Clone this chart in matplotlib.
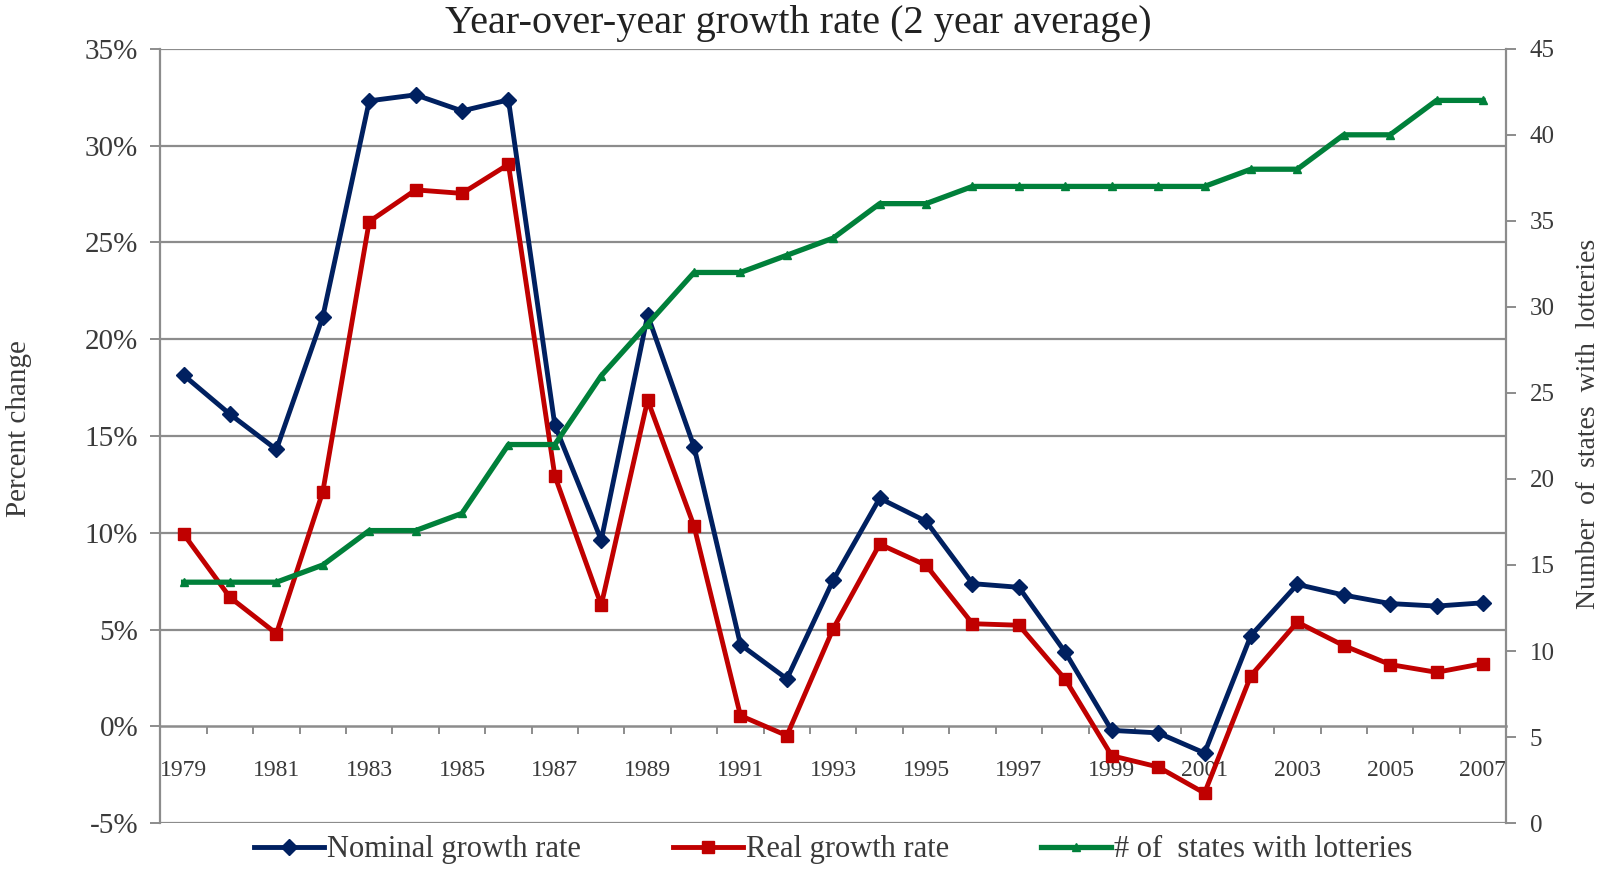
import matplotlib
matplotlib.use('Agg')
import matplotlib.pyplot as plt
import numpy as np

# Data
years = list(range(1979, 2008))
nominal = [18.14, 16.12, 14.30, 21.16, 32.31, 32.62, 31.79, 32.36, 15.55, 9.62,
           21.24, 14.44, 4.22, 2.45, 7.56, 11.78, 10.59, 7.37, 7.18, 3.82,
           -0.21, -0.34, -1.38, 4.69, 7.33, 6.78, 6.34, 6.21, 6.38]
real = [9.93, 6.66, 4.79, 12.12, 26.07, 27.71, 27.53, 29.03, 12.93, 6.26,
        16.85, 10.34, 0.55, -0.48, 5.05, 9.41, 8.32, 5.30, 5.22, 2.42,
        -1.52, -2.10, -3.45, 2.62, 5.38, 4.17, 3.19, 2.79, 3.24]
states = [14, 14, 14, 15, 17, 17, 18, 22, 22, 26, 29, 32, 32, 33, 34, 36, 36,
          37, 37, 37, 37, 37, 37, 38, 38, 40, 40, 42, 42]

pct_ticks = [-5, 0, 5, 10, 15, 20, 25, 30, 35]
pct_labels = ['-5%', '0%', '5%', '10%', '15%', '20%', '25%', '30%', '35%']
state_ticks = [0, 5, 10, 15, 20, 25, 30, 35, 40, 45]

NAVY = '#002060'
RED = '#C00000'
GREEN = '#00803A'
GRID = '#8C8C8C'
TEXT = '#3A3A3A'

plt.rcParams['font.family'] = ['Liberation Serif', 'DejaVu Serif']
plt.rcParams['text.color'] = TEXT
plt.rcParams['axes.labelcolor'] = TEXT
plt.rcParams['xtick.color'] = GRID
plt.rcParams['ytick.color'] = GRID
plt.rcParams['xtick.labelcolor'] = TEXT
plt.rcParams['ytick.labelcolor'] = TEXT

fig = plt.figure(figsize=(16.04, 8.71), dpi=100)
ax = fig.add_axes([0.100, 0.055, 0.839, 0.889])
ax2 = ax.twinx()

x = np.arange(len(years))

# Primary axis: growth rates
ax.plot(x, nominal, color=NAVY, lw=3.5, marker='D', ms=8.5, mec=NAVY, mfc=NAVY,
        label='Nominal growth rate', zorder=3)
ax.plot(x, real, color=RED, lw=3.5, marker='s', ms=8.5, mec=RED, mfc=RED,
        label='Real growth rate', zorder=3)

# Secondary axis: number of states
ax2.plot(x, states, color=GREEN, lw=3.8, marker='^', ms=6, mec=GREEN, mfc=GREEN,
         label='# of  states with lotteries', zorder=3)

ax.set_xlim(-0.5, len(years) - 0.5)
ax.set_ylim(-5, 35)
ax2.set_ylim(0, 45)

ax.set_yticks(pct_ticks)
ax.set_yticklabels(pct_labels)
ax2.set_yticks(state_ticks)

# horizontal gridlines
for v in pct_ticks:
    if v != 0:
        ax.axhline(v, color=GRID, lw=1.6, zorder=1)

# x axis sits on the 0% line
for s in ['top', 'right']:
    ax.spines[s].set_visible(False)
ax.spines['bottom'].set_position(('data', 0))
ax.spines['bottom'].set_color(GRID)
ax.spines['bottom'].set_linewidth(1.8)
ax.spines['left'].set_color(GRID)
ax.spines['left'].set_linewidth(1.6)
for s in ['top', 'left', 'bottom']:
    ax2.spines[s].set_visible(False)
ax2.spines['right'].set_color(GRID)
ax2.spines['right'].set_linewidth(1.6)

ax.set_xticks(x[::2])
ax.set_xticklabels([str(y) for y in years[::2]], fontsize=17)
ax.set_xticks(np.arange(-0.5, len(years), 1.0), minor=True)
ax.tick_params(axis='x', which='major', length=0, pad=24)
ax.tick_params(axis='x', which='minor', length=6, width=1.4, direction='out')
ax.tick_params(axis='y', length=7, width=1.4, labelsize=21, pad=9)
ax2.tick_params(axis='y', length=7, width=1.4, labelsize=18, pad=10)

ax.set_ylabel('Percent change', fontsize=21)
ax.yaxis.set_label_coords(-0.0956, 0.51)
ax2.set_ylabel('Number  of  states  with  lotteries', fontsize=20)
ax2.yaxis.set_label_coords(1.052, 0.515)

fig.suptitle('Year-over-year growth rate (2 year average)', fontsize=29,
             color='#222222', y=0.994, x=0.4975)

h1, l1 = ax.get_legend_handles_labels()
h2, l2 = ax2.get_legend_handles_labels()
ax.legend(h1 + h2, l1 + l2, loc='upper center', bbox_to_anchor=(0.5, 0.0),
          ncol=3, frameon=False, fontsize=22, handlelength=2.3,
          handletextpad=0.1, columnspacing=3.0, borderaxespad=0)

fig.savefig('out.png', dpi=100)
